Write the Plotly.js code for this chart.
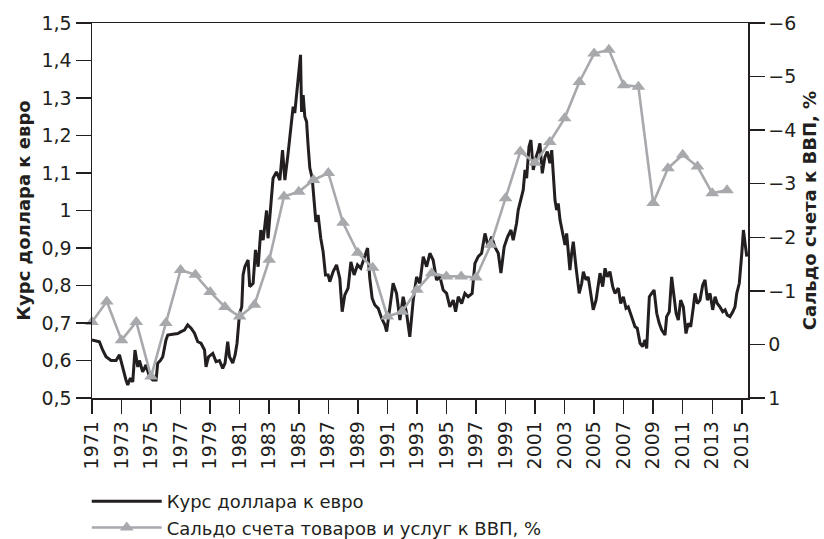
<!DOCTYPE html>
<html><head><meta charset="utf-8">
<script src="https://cdn.plot.ly/plotly-3.0.1.min.js"></script>
<style>html,body{margin:0;padding:0;background:#fff}</style>
</head><body><div id="chart" style="width:824px;height:539px"></div>
<script>
// Курс доллара к евро (monthly-ish readings)
const rateYears = [
1971.00,1971.50,1971.72,1971.95,1972.29,1972.63,1972.86,1972.96,1973.15,1973.30,1973.42,1973.60,1973.76,1973.91,
1974.10,1974.21,1974.43,1974.66,1974.89,1975.11,1975.34,1975.45,1975.63,1975.79,1976.01,1976.13,1976.47,1976.81,
1977.03,1977.26,1977.48,1977.71,1977.94,1978.16,1978.38,1978.62,1978.72,1978.89,1979.18,1979.40,1979.63,1979.85,
1980.01,1980.19,1980.31,1980.53,1980.69,1980.82,1980.99,1981.14,1981.23,1981.35,1981.57,1981.68,1981.91,
1982.07,1982.25,1982.43,1982.59,1982.82,1982.92,1983.15,1983.26,1983.49,1983.72,1983.90,1984.06,1984.28,
1984.51,1984.62,1984.73,1984.96,1985.12,1985.19,1985.30,1985.41,1985.53,1985.63,1985.75,1985.91,1986.04,
1986.16,1986.31,1986.49,1986.65,1986.81,1986.99,1987.10,1987.33,1987.56,1987.78,1987.94,1988.12,1988.34,
1988.53,1988.75,1988.98,1989.20,1989.43,1989.66,1989.81,1989.97,1990.15,1990.38,1990.61,1990.83,1990.95,
1991.10,1991.28,1991.39,1991.62,1991.85,1992.07,1992.30,1992.52,1992.75,1992.98,1993.20,1993.43,1993.66,
1993.88,1994.10,1994.33,1994.56,1994.78,1995.01,1995.23,1995.46,1995.62,1995.80,1996.03,1996.25,1996.47,
1996.74,1996.93,1997.15,1997.38,1997.61,1997.83,1998.06,1998.28,1998.51,1998.69,1998.91,1999.14,1999.37,
1999.52,1999.75,1999.86,2000.04,2000.20,2000.32,2000.43,2000.59,2000.72,2000.88,2001.04,2001.22,2001.33,
2001.49,2001.67,2001.83,2002.01,2002.13,2002.23,2002.35,2002.46,2002.57,2002.69,2002.87,2003.03,2003.14,
2003.25,2003.36,2003.48,2003.59,2003.77,2003.99,2004.16,2004.27,2004.45,2004.60,2004.77,2004.94,2005.13,
2005.28,2005.40,2005.58,2005.74,2005.89,2006.07,2006.26,2006.41,2006.64,2006.80,2006.98,2007.16,2007.31,
2007.54,2007.77,2007.92,2008.11,2008.29,2008.44,2008.56,2008.74,2008.90,2009.06,2009.24,2009.41,2009.58,
2009.80,2009.91,2010.09,2010.25,2010.36,2010.55,2010.70,2010.86,2011.04,2011.22,2011.38,2011.54,2011.72,
2011.83,2011.99,2012.17,2012.35,2012.51,2012.67,2012.85,2013.03,2013.19,2013.34,2013.52,2013.71,2013.87,
2014.02,2014.20,2014.39,2014.54,2014.66,2014.83,2015.00,2015.11,2015.22,2015.34
];
const rateValues = [
0.655,0.650,0.628,0.610,0.600,0.600,0.615,0.600,0.566,0.548,0.535,0.553,0.543,0.628,
0.583,0.600,0.570,0.588,0.557,0.548,0.548,0.593,0.600,0.610,0.655,0.668,0.670,0.672,
0.677,0.681,0.695,0.686,0.673,0.650,0.646,0.628,0.583,0.610,0.619,0.597,0.600,0.579,
0.593,0.650,0.610,0.593,0.615,0.646,0.726,0.743,0.828,0.850,0.868,0.797,0.806,
0.895,0.850,0.948,0.921,1.000,0.926,1.046,1.086,1.103,1.081,1.161,1.081,1.153,
1.250,1.277,1.260,1.357,1.415,1.263,1.308,1.250,1.237,1.175,1.113,1.086,1.023,
0.970,0.988,0.926,0.890,0.828,0.828,0.810,0.837,0.855,0.819,0.730,0.775,0.793,
0.863,0.828,0.855,0.846,0.873,0.900,0.819,0.766,0.748,0.739,0.713,0.695,0.677,
0.720,0.783,0.806,0.779,0.708,0.770,0.726,0.663,0.761,0.823,0.806,0.877,0.850,
0.886,0.868,0.815,0.823,0.788,0.779,0.743,0.761,0.730,0.770,0.752,0.779,0.770,
0.779,0.859,0.877,0.886,0.939,0.903,0.930,0.903,0.886,0.833,0.903,0.930,0.948,
0.921,0.966,1.001,1.028,1.055,1.108,1.086,1.170,1.188,1.108,1.139,1.161,1.179,
1.099,1.143,1.157,1.126,1.161,1.099,1.028,1.001,1.019,0.975,0.939,0.908,0.939,
0.886,0.841,0.886,0.917,0.850,0.779,0.806,0.837,0.815,0.823,0.779,0.735,0.761,
0.806,0.833,0.797,0.846,0.823,0.837,0.797,0.779,0.793,0.752,0.770,0.739,0.743,
0.717,0.690,0.686,0.646,0.637,0.655,0.632,0.770,0.779,0.788,0.726,0.699,0.681,
0.668,0.717,0.730,0.823,0.788,0.726,0.708,0.761,0.743,0.672,0.699,0.690,0.743,
0.779,0.752,0.761,0.801,0.815,0.761,0.779,0.735,0.770,0.752,0.743,0.730,0.735,
0.721,0.717,0.730,0.743,0.779,0.806,0.886,0.948,0.913,0.877
];
// Сальдо счета товаров и услуг к ВВП, %
const balanceYears = [1971,1972,1973,1974,1975,1976,1977,1978,1979,1980,1981,1982,1983,1984,1985,1986,1987,1988,1989,1990,
1991,1992,1993,1994,1995,1996,1997,1998,1999,2000,2001,2002,2003,2004,2005,2006,2007,2008,2009,2010,2011,2012,2013,2014];
const balanceValues = [-0.42,-0.80,-0.08,-0.42,0.60,-0.40,-1.39,-1.30,-0.98,-0.70,-0.52,-0.74,-1.58,-2.76,-2.85,-3.07,-3.20,-2.27,-1.71,-1.43,
-0.52,-0.61,-1.02,-1.33,-1.27,-1.27,-1.25,-1.86,-2.73,-3.60,-3.39,-3.78,-4.22,-4.90,-5.43,-5.50,-4.84,-4.81,-2.64,-3.29,-3.54,-3.32,-2.82,-2.88];

const yearTicks = [1971,1973,1975,1977,1979,1981,1983,1985,1987,1989,1991,1993,1995,1997,1999,2001,2003,2005,2007,2009,2011,2013,2015];
const yearLabels = ['1971','1973','1975','1977','1979','1981','1983','1985','1987','1989','1991','1993','1995','1997','1999','2001','2003','2005','2007','2009','2011','2013','2015'];
const leftTickVals = [0.5,0.6,0.7,0.8,0.9,1.0,1.1,1.2,1.3,1.4,1.5];
const leftTickText = ['0,5','0,6','0,7','0,8','0,9','1','1,1','1,2','1,3','1,4','1,5'];
const rightTickVals = [-6,-5,-4,-3,-2,-1,0,1];
const rightTickText = ['\u22126','\u22125','\u22124','\u22123','\u22122','\u22121','0','1'];

const ink = '#231f20';
const grey = '#a7a9ac';

const traces = [
  {x: rateYears, y: rateValues, type: 'scatter', mode: 'lines', name: 'Курс доллара к евро',
   line: {color: ink, width: 3}, hoverinfo: 'skip'},
  {x: balanceYears, y: balanceValues, type: 'scatter', mode: 'lines+markers', name: 'Сальдо счета товаров и услуг к ВВП, %',
   yaxis: 'y2', line: {color: grey, width: 2.6}, marker: {symbol: 'triangle-up', size: 12, color: grey},
   cliponaxis: false, hoverinfo: 'skip'}
];

const axisCommon = {showgrid: false, zeroline: false, showline: true, linecolor: ink, linewidth: 1.5,
  ticks: 'outside', tickcolor: ink, tickwidth: 1.5};

const layout = {
  width: 824, height: 539,
  margin: {l: 92, r: 76, t: 23, b: 141, pad: 0},
  paper_bgcolor: '#ffffff', plot_bgcolor: '#ffffff',
  font: {family: 'DejaVu Sans, sans-serif', size: 18, color: ink},
  separators: ', ',
  showlegend: true,
  legend: {xref: 'paper', x: -0.008, xanchor: 'left', yref: 'container', y: 0.104, yanchor: 'top', orientation: 'v',
    font: {size: 18, color: ink}, itemwidth: 70, tracegroupgap: 0, bgcolor: 'rgba(0,0,0,0)', traceorder: 'normal'},
  xaxis: Object.assign({}, axisCommon, {range: [1971, 2015.42], tickmode: 'array', tickvals: yearTicks, ticktext: yearLabels,
    tickangle: -90, ticklen: 14, mirror: true, tickfont: {size: 19}}),
  yaxis: Object.assign({}, axisCommon, {range: [0.5, 1.5], tickmode: 'array', tickvals: leftTickVals, ticktext: leftTickText,
    ticklen: 15, tickfont: {size: 19},
    title: {text: 'Курс доллара к евро', font: {size: 18, weight: 'bold'}, standoff: 6}}),
  yaxis2: Object.assign({}, axisCommon, {overlaying: 'y', side: 'right', range: [1, -6], tickmode: 'array',
    tickvals: rightTickVals, ticktext: rightTickText, ticklen: 15, tickfont: {size: 19},
    title: {text: 'Сальдо счета к ВВП, %', font: {size: 18, weight: 'bold'}, standoff: 8}})
};

Plotly.newPlot('chart', traces, layout, {displayModeBar: false, staticPlot: true});
</script>
</body></html>
